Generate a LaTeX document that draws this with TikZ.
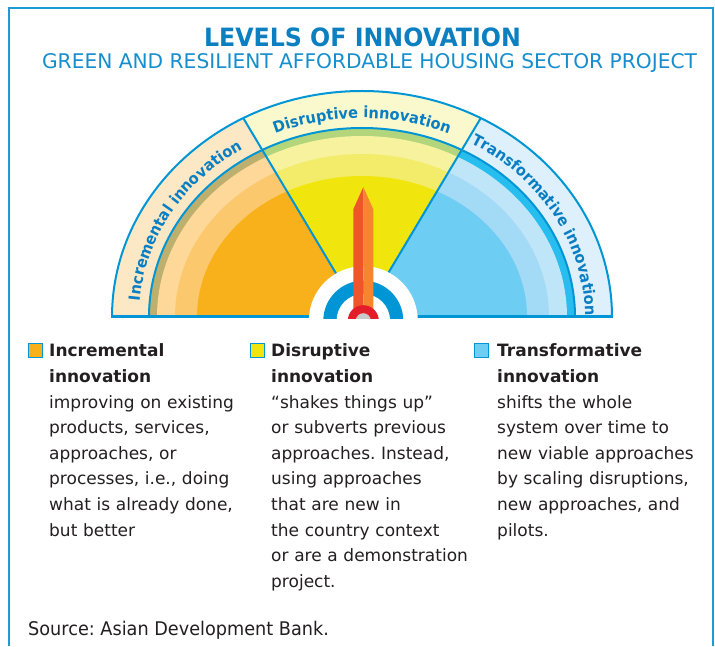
\documentclass[tikz,border=0pt]{standalone}
\usepackage{fontspec}
\setmainfont{DejaVu Sans}
\newfontfamily\narrowfont[FakeStretch=0.94]{DejaVu Sans}
\usepackage{xcolor}
\usepackage{tikz}
\usetikzlibrary{calc,decorations.text}
\frenchspacing

\definecolor{framebl}{HTML}{1E9BD7}
\definecolor{titlebl}{HTML}{0B7FC0}
\definecolor{subbl}{HTML}{168ECE}
\definecolor{arcbl}{HTML}{0A7EC2}
\definecolor{lineblue}{HTML}{0096D6}
\definecolor{ink}{HTML}{231F20}
\definecolor{incband}{HTML}{FDE8C6}
\definecolor{incring}{HTML}{BDB06F}
\definecolor{inclight}{HTML}{FDD899}
\definecolor{incmid}{HTML}{FCC86E}
\definecolor{incmain}{HTML}{F9B11B}
\definecolor{disband}{HTML}{FAF8CD}
\definecolor{disring}{HTML}{B3D57B}
\definecolor{dislight}{HTML}{F6F29E}
\definecolor{dismid}{HTML}{F3EC6A}
\definecolor{dismain}{HTML}{F1E50E}
\definecolor{trnband}{HTML}{DDF0FB}
\definecolor{trnring}{HTML}{27BDEE}
\definecolor{trnlight}{HTML}{BEE5F8}
\definecolor{trnmid}{HTML}{A3DAF5}
\definecolor{trnmain}{HTML}{6DCDF3}
\definecolor{needlered}{HTML}{EE5529}
\definecolor{needleorange}{HTML}{F5862F}
\definecolor{hubred}{HTML}{E31E2A}
\definecolor{hubgray}{HTML}{C9C9CB}

\newcommand{\arcfont}{\narrowfont\fontsize{15.5}{15.5}\selectfont\bfseries}
% band, dark ring, light ring, mid ring, main face of one sector
\newcommand{\gaugerings}[5]{%
  \fill[#1] (G) ellipse [x radius=250, y radius=226];
  \fill[#2] (G) ellipse [x radius=213, y radius=189];
  \fill[#3] (G) ellipse [x radius=205, y radius=181];
  \fill[#4] (G) ellipse [x radius=187, y radius=163];
  \fill[#5] (G) ellipse [x radius=165, y radius=141];
}

\begin{document}
\begin{tikzpicture}[x=1pt,y=1pt,
  gaugeline/.style={draw=lineblue, line width=2},
  keybox/.style={draw=lineblue, line width=1.2, minimum size=14pt, inner sep=0},
  legend/.style={anchor=base west, text width=230pt, align=left, inner sep=0,
    font=\fontsize{17}{25.6}\selectfont, text=ink},
  arclabel/.style={decorate, decoration={text along path, text align=center, text color=arcbl}}]
\useasboundingbox (0,0) rectangle (715,646);
\draw[framebl, line width=1.5] (9,0) -- (9,638) -- (713,638) -- (713,0);

\node (title) [anchor=base, text=titlebl, font=\narrowfont\fontsize{25.2}{26}\selectfont\bfseries] at (362.5,599.3) {LEVELS OF INNOVATION};
\node (subtitle) [anchor=base, text=subbl, font=\fontsize{20.2}{22}\selectfont] at (369.5,577.7) {GREEN AND RESILIENT AFFORDABLE HOUSING SECTOR PROJECT};

\coordinate (G) at (362,329);
\coordinate (H) at (363.3,325.3);
\coordinate (DL) at ($(G)+(-170,284.75)$);
\coordinate (DR) at ($(G)+(170,284.75)$);

\begin{scope}
\clip (G) -- ++(-300,0) -- ++(0,284.75) -- (DL) -- cycle;
\gaugerings{incband}{incring}{inclight}{incmid}{incmain}
\end{scope}
\begin{scope}
\clip (G) -- (DL) -- (DR) -- cycle;
\gaugerings{disband}{disring}{dislight}{dismid}{dismain}
\end{scope}
\begin{scope}
\clip (G) -- (DR) -- ++(130,0) -- ++(0,-284.75) -- cycle;
\gaugerings{trnband}{trnring}{trnlight}{trnmid}{trnmain}
\end{scope}

\draw[gaugeline] ($(G)+(-250,0)$) arc[start angle=180, end angle=0, x radius=250, y radius=226];
\draw[gaugeline] ($(G)+(-213,0)$) arc[start angle=180, end angle=0, x radius=213, y radius=189];
\begin{scope}
\clip (G) ellipse [x radius=250, y radius=226];
\draw[gaugeline] (G) -- (DL);
\draw[gaugeline] (G) -- (DR);
\end{scope}
\draw[gaugeline, line width=3] ($(G)+(-251,0)$) -- ($(G)+(251,0)$);

\path[arclabel, decoration={text={|\arcfont|Incremental innovation}}]
  ($(G)+(-223,0)$) arc[start angle=180, end angle=118.1, x radius=223, y radius=199];
\path[arclabel, decoration={text={|\arcfont|Disruptive innovation}}]
  ($(G)+(118.1:223 and 199)$) arc[start angle=118.1, end angle=61.9, x radius=223, y radius=199];
\path[arclabel, decoration={text align={left, left indent=4pt}, text={|\arcfont|Transformative innovation}}]
  ($(G)+(61.9:223 and 199)$) arc[start angle=61.9, end angle=-12, x radius=223, y radius=199];

% hub and needle
\begin{scope}
\clip ($(G)+(-100,-1.5)$) rectangle ($(G)+(100,200)$);
\fill[white] (H) circle [radius=54.5];
\fill[lineblue] (H) circle [radius=40];
\fill[white] (H) circle [radius=26.75];
\coordinate (tip) at (363.3,459);
\fill[needlered] (353.3,329) -- (353.3,436.7) -- (tip) -- (363.3,329) -- cycle;
\fill[needleorange] (363.3,329) -- (tip) -- (373.3,436.7) -- (373.3,329) -- cycle;
\fill[hubred] (H) circle [radius=15.5];
\fill[hubgray] (H) circle [radius=7.5];
\end{scope}

\node (incbox) [keybox, fill=incmain] at (35.5,295.2) {};
\node (disbox) [keybox, fill=dismain] at (257.5,295.2) {};
\node (trnbox) [keybox, fill=trnmain] at (481.5,295.2) {};

\node (inctext) [legend] at (49,289) {\textbf{Incremental}\\\textbf{innovation}\\improving on existing\\products, services,\\approaches, or\\processes, i.e., doing\\what is already done,\\but better};
\node (distext) [legend] at (271,289) {\textbf{Disruptive}\\\textbf{innovation}\\“shakes things up”\\or subverts previous\\approaches. Instead,\\using approaches\\that are new in\\the country context\\or are a demonstration\\project.};
\node (trntext) [legend] at (497,289) {\textbf{Transformative}\\\textbf{innovation}\\shifts the whole\\system over time to\\new viable approaches\\by scaling disruptions,\\new approaches, and\\pilots.};

\node (source) [anchor=base west, inner sep=0, text=ink, font=\narrowfont\fontsize{18.8}{20}\selectfont] at (28,11) {Source: Asian Development Bank.};
\end{tikzpicture}
\end{document}
